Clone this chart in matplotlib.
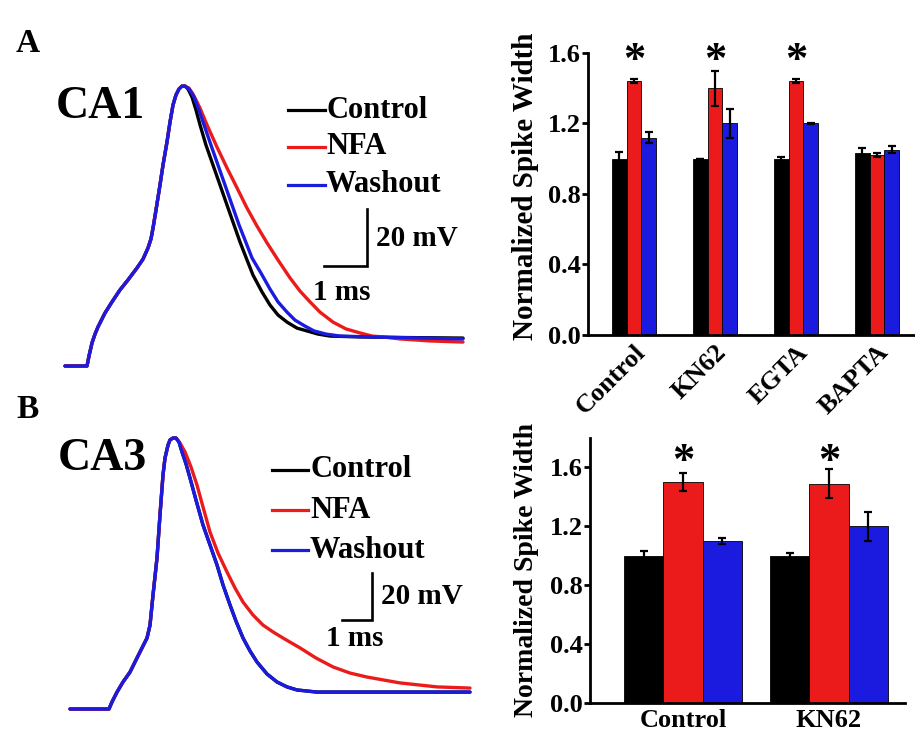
import matplotlib
matplotlib.use("Agg")
import matplotlib.pyplot as plt
from matplotlib.lines import Line2D
import numpy as np

# ---------------- data ----------------
# Panel A (CA1) action potential traces: time (ms), voltage (mV)
a_rise_t = [0.000, 0.512, 0.558, 0.628, 0.698, 0.767, 0.930, 1.093, 1.279, 1.465, 1.674,
            1.814, 1.930, 2.000, 2.047, 2.116, 2.209, 2.279, 2.372, 2.442, 2.512, 2.581,
            2.651, 2.721]
a_rise_v = [-65.0, -65.0, -61.5, -56.9, -53.8, -51.3, -46.4, -42.5, -38.3, -34.8, -30.6,
            -27.5, -23.6, -20.4, -16.6, -10.3, -1.5, 5.5, 13.6, 20.6, 26.6, 30.1,
            32.2, 33.2]
a_ctrl_t = [2.791, 2.860, 2.953, 3.047, 3.140, 3.279, 3.442, 3.605, 3.767, 3.930, 4.070,
            4.233, 4.372, 4.581, 4.767, 4.953, 5.163, 5.395, 5.628, 5.884, 6.163, 6.860,
            7.791, 9.256]
a_ctrl_v = [33.2, 32.2, 29.4, 24.8, 19.6, 12.5, 5.5, -1.5, -8.5, -15.5, -21.5,
            -27.8, -33.1, -39.0, -43.6, -47.1, -49.6, -51.7, -52.7, -53.8, -54.5, -54.8,
            -55.0, -55.2]
a_nfa_t = [2.791, 2.884, 2.977, 3.140, 3.302, 3.535, 3.767, 4.000, 4.233, 4.465, 4.698,
           4.953, 5.233, 5.465, 5.698, 5.930, 6.233, 6.535, 6.860, 7.140, 7.395, 7.791,
           8.488, 9.256]
a_nfa_v = [33.2, 32.5, 30.4, 25.5, 19.6, 11.8, 4.5, -2.5, -9.6, -15.9, -21.8,
           -27.8, -34.1, -38.7, -42.5, -46.1, -49.6, -52.0, -53.4, -54.5, -54.8, -55.5,
           -56.2, -56.6]
a_wash_t = [2.791, 2.884, 3.000, 3.116, 3.233, 3.395, 3.558, 3.721, 3.884, 4.047, 4.186,
            4.349, 4.558, 4.767, 4.953, 5.163, 5.349, 5.581, 5.791, 6.070, 6.395, 7.093,
            9.256]
a_wash_v = [33.2, 32.2, 29.4, 24.8, 19.6, 12.5, 5.5, -1.5, -8.5, -15.5, -20.8,
            -27.1, -32.4, -38.0, -42.5, -46.1, -48.9, -51.0, -52.7, -53.8, -54.5, -54.8,
            -55.5]

# Panel B (CA3) action potential traces
b_rise_t = [0.000, 1.300, 1.400, 1.567, 1.767, 2.000, 2.267, 2.567, 2.667, 2.767, 2.900,
            3.000, 3.100, 3.167, 3.267, 3.333, 3.433]
b_rise_v = [-65.0, -65.0, -62.0, -57.8, -53.5, -49.3, -42.4, -34.8, -29.3, -16.5, -0.7,
            17.6, 34.6, 41.8, 47.3, 49.5, 50.3]
b_ctrl_t = [3.533, 3.633, 3.733, 3.867, 4.000, 4.200, 4.433, 4.667, 4.900, 5.100, 5.333,
            5.533, 5.767, 6.000, 6.233, 6.567, 6.900, 7.233, 7.567, 8.233, 13.333]
b_ctrl_v = [50.3, 48.6, 44.4, 39.3, 33.3, 23.9, 13.3, 4.8, -3.7, -12.2, -20.7,
            -27.6, -34.8, -40.3, -45.0, -50.1, -53.5, -55.6, -56.9, -57.8, -57.8]
b_nfa_t = [3.533, 3.667, 3.833, 4.033, 4.233, 4.433, 4.667, 4.933, 5.233, 5.500, 5.767,
           6.100, 6.433, 6.767, 7.100, 7.667, 8.200, 8.767, 9.333, 9.900, 11.000, 12.233,
           13.333]
b_nfa_v = [50.3, 48.2, 44.4, 38.0, 30.3, 21.0, 10.3, 1.4, -6.7, -13.5, -19.5,
           -25.0, -29.3, -32.2, -34.8, -39.0, -43.3, -47.1, -49.7, -51.4, -53.9, -55.6,
           -56.1]
b_wash_t = [3.533, 3.633, 3.733, 3.867, 4.000, 4.200, 4.433, 4.667, 4.900, 5.100, 5.333,
            5.533, 5.767, 6.000, 6.233, 6.567, 6.900, 7.233, 7.567, 8.233, 13.333]
b_wash_v = [50.3, 48.6, 44.4, 39.3, 33.3, 23.9, 13.3, 4.8, -3.7, -12.2, -20.7,
            -27.6, -34.8, -40.3, -45.0, -50.1, -53.5, -55.6, -56.9, -57.8, -57.8]

series_names = ["Control", "NFA", "Washout"]

# Bar chart A
cats_a = ["Control", "KN62", "EGTA", "BAPTA"]
ctrl_a = [1.00, 1.00, 1.00, 1.03]
ctrl_a_err = [0.04, 0.00, 0.01, 0.03]
nfa_a = [1.44, 1.40, 1.44, 1.02]
nfa_a_err = [0.01, 0.10, 0.01, 0.01]
wash_a = [1.12, 1.20, 1.20, 1.05]
wash_a_err = [0.03, 0.08, 0.005, 0.02]
sig_a = [True, True, True, False]
yticks_a = [0.0, 0.4, 0.8, 1.2, 1.6]

# Bar chart B
cats_b = ["Control", "KN62"]
ctrl_b = [1.00, 1.00]
ctrl_b_err = [0.03, 0.02]
nfa_b = [1.50, 1.49]
nfa_b_err = [0.06, 0.10]
wash_b = [1.10, 1.20]
wash_b_err = [0.02, 0.10]
sig_b = [True, True]
yticks_b = [0.0, 0.4, 0.8, 1.2, 1.6]

# ---------------- style ----------------
W, H = 915, 740
FONT = "Liberation Serif"
C_BLACK = "#000000"
C_RED = "#ec1b1b"
C_BLUE = "#1b1bdf"
colors = [C_BLACK, C_RED, C_BLUE]

fig = plt.figure(figsize=(W / 100, H / 100), dpi=100)
fig.patch.set_facecolor("white")


def box(l, r, t, b):
    return [l / W, 1 - b / H, (r - l) / W, (b - t) / H]


def ftext(x, y, s, **kw):
    kw.setdefault("family", FONT)
    kw.setdefault("weight", "bold")
    fig.text(x / W, 1 - y / H, s, **kw)


def trace_axes(l, r, t, b, x0, pxms, y0, pxmv):
    ax = fig.add_axes(box(l, r, t, b))
    ax.set_xlim((l - x0) / pxms, (r - x0) / pxms)
    ax.set_ylim((y0 - b) / pxmv - 65, (y0 - t) / pxmv - 65)
    ax.axis("off")
    return ax


def draw_traces(ax, rise_t, rise_v, falls):
    for (ft, fv), c in zip(falls, colors):
        ax.plot(rise_t + ft, rise_v + fv, color=c, lw=2.4,
                solid_joinstyle="round", solid_capstyle="round")


def legend_and_scale(ax, lx0, lx1, ly, tx, corner, sb_t, sb_v, txt_mv, txt_ms):
    for (y, c, name) in zip(ly, colors, series_names):
        fig.add_artist(Line2D([lx0 / W, lx1 / W], [1 - y / H, 1 - y / H],
                              color=c, lw=2.3))
        ftext(tx, y, name, fontsize=22, va="center", ha="left")
    ct, cv = corner
    ax.plot([ct - sb_t, ct, ct], [cv, cv, cv + sb_v], color="black", lw=1.9,
            solid_joinstyle="miter")
    ftext(txt_mv[0], txt_mv[1], "20 mV", fontsize=21, va="center", ha="left")
    ftext(txt_ms[0], txt_ms[1], "1 ms", fontsize=21, va="center", ha="left")


# ---- Panel A traces ----
axA = trace_axes(40, 480, 70, 380, 65, 43.0, 366, 2.85)
draw_traces(axA, a_rise_t, a_rise_v,
            [(a_ctrl_t, a_ctrl_v), (a_nfa_t, a_nfa_v), (a_wash_t, a_wash_v)])
legend_and_scale(axA, 288, 325, [110, 147, 185], 326,
                 ((367 - 65) / 43.0, (366 - 266) / 2.85 - 65), 1.0, 20.0,
                 (376, 238), (313, 292))

# ---- Panel B traces ----
axB = trace_axes(40, 480, 420, 725, 70, 30.0, 709, 2.35)
draw_traces(axB, b_rise_t, b_rise_v,
            [(b_ctrl_t, b_ctrl_v), (b_nfa_t, b_nfa_v), (b_wash_t, b_wash_v)])
legend_and_scale(axB, 272, 308, [470, 510, 550], 310,
                 ((372 - 70) / 30.0, (709 - 620) / 2.35 - 65), 1.0, 20.0,
                 (381, 596), (326, 638))

# panel letters and region labels
ftext(16, 52, "A", fontsize=24, va="baseline", ha="left")
ftext(56, 118, "CA1", fontsize=33, va="baseline", ha="left")
ftext(16, 418, "B", fontsize=24, va="baseline", ha="left")
ftext(58, 470, "CA3", fontsize=33, va="baseline", ha="left")


# ---------------- bar charts ----------------
def bar_axes(l, r, t, b, x_left, x_right, ymax):
    ax = fig.add_axes(box(l, r, t, b))
    ax.set_xlim(x_left, x_right)
    ax.set_ylim(0, ymax)
    for s in ["top", "right"]:
        ax.spines[s].set_visible(False)
    for s in ["left", "bottom"]:
        ax.spines[s].set_linewidth(2.0)
    ax.tick_params(axis="y", direction="out", length=4, width=2, pad=1)
    ax.tick_params(axis="x", length=0, pad=4)
    return ax


def draw_bars(ax, cats, vals, errs, width):
    x = np.arange(len(cats))
    for k, (v, e, c) in enumerate(zip(vals, errs, colors)):
        xs = x + (k - 1) * width
        ax.bar(xs, v, width=width, color=c, edgecolor="black", linewidth=0.6)
        ax.errorbar(xs, v, yerr=e, fmt="none", ecolor="black", elinewidth=1.6,
                    capsize=3, capthick=1.6)
    return x


def style_ticks(ax, yticks, fs):
    ax.set_yticks(yticks)
    ax.set_yticklabels([f"{t:.1f}" for t in yticks], family=FONT,
                       weight="bold", fontsize=fs)


# Bar A
axBA = bar_axes(588, 915, 53, 335, (588 - 634) / 81.0, (915 - 634) / 81.0, 1.6)
xa = draw_bars(axBA, cats_a, [ctrl_a, nfa_a, wash_a],
               [ctrl_a_err, nfa_a_err, wash_a_err], 0.18)
style_ticks(axBA, yticks_a, 19)
axBA.set_xticks(xa)
axBA.set_xticklabels(cats_a, family=FONT, weight="bold", fontsize=19,
                     rotation=45, ha="right", va="top", rotation_mode="anchor")
axBA.set_ylabel("Normalized Spike Width", family=FONT, weight="bold", fontsize=21)
axBA.yaxis.set_label_coords((539 - 588) / (915 - 588), (335 - 186) / (335 - 53))
for xi, s in zip(xa, sig_a):
    if s:
        axBA.text(xi, 1.49, "*", family=FONT, weight="bold", fontsize=32,
                  ha="center", va="baseline")

# Bar B
axBB = bar_axes(590, 905, 438, 703, (590 - 683) / 146.0, (905 - 683) / 146.0, 1.8)
xb = draw_bars(axBB, cats_b, [ctrl_b, nfa_b, wash_b],
               [ctrl_b_err, nfa_b_err, wash_b_err], 0.27)
style_ticks(axBB, yticks_b, 19)
axBB.set_xticks(xb)
axBB.set_xticklabels(cats_b, family=FONT, weight="bold", fontsize=19)
axBB.set_ylabel("Normalized Spike Width", family=FONT, weight="bold", fontsize=20)
axBB.yaxis.set_label_coords((539 - 590) / (905 - 590), (703 - 570) / (703 - 438))
for xi, s in zip(xb, sig_b):
    if s:
        axBB.text(xi, 1.565, "*", family=FONT, weight="bold", fontsize=32,
                  ha="center", va="baseline")

fig.savefig("out.png", dpi=100, facecolor="white")
